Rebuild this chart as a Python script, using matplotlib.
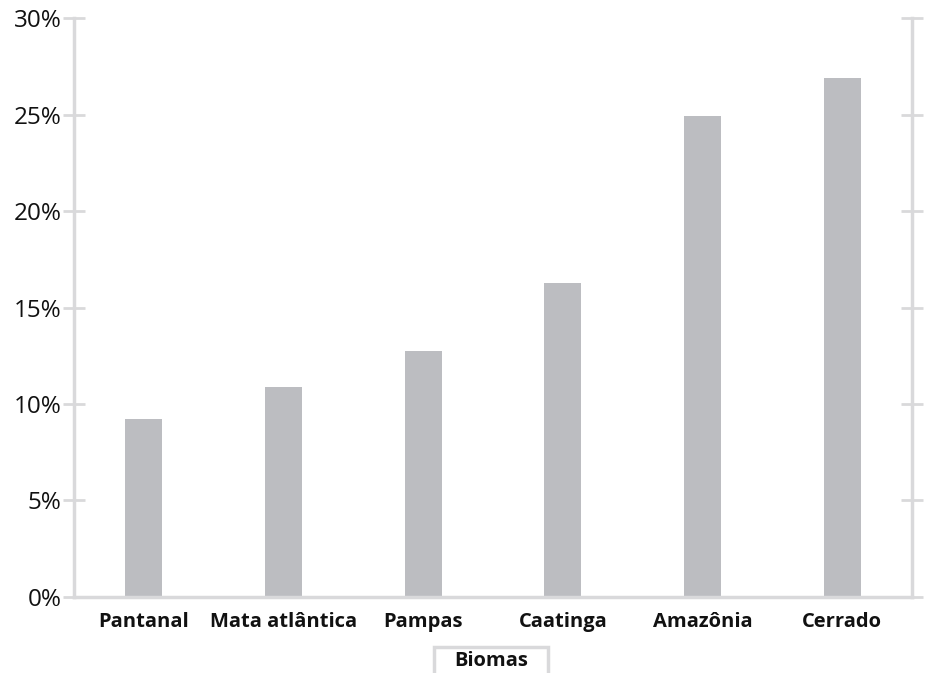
import matplotlib
matplotlib.use("Agg")
import matplotlib.pyplot as plt
from matplotlib.patches import Rectangle
from matplotlib.ticker import FuncFormatter

biomas = ["Pantanal", "Mata atlântica", "Pampas", "Caatinga", "Amazônia", "Cerrado"]
valores = [9.2, 10.9, 12.75, 16.25, 24.95, 26.9]

plt.rcParams["font.family"] = ["Open Sans", "DejaVu Sans"]

bar_color = "#bcbdc1"
axis_color = "#d9d9db"
text_color = "#111111"

fig = plt.figure(figsize=(9.25, 6.73), dpi=100)
ax = fig.add_axes((0.08, 0.113, 0.906, 0.86))

ax.bar(range(len(biomas)), valores, width=0.265, color=bar_color, zorder=2)

ax.set_xlim(-0.5, len(biomas) - 0.5)
ax.set_ylim(0, 30)
ax.set_yticks(range(0, 31, 5))
ax.yaxis.set_major_formatter(FuncFormatter(lambda v, _: f"{v:.0f}%"))

ax.spines["top"].set_visible(False)
for side in ["left", "right", "bottom"]:
    ax.spines[side].set_color(axis_color)
    ax.spines[side].set_linewidth(2.5)

ax.tick_params(axis="y", which="both", direction="inout", length=16, width=2,
               color=axis_color, labelsize=17.5, labelcolor=text_color, pad=1,
               right=True)
ax.tick_params(axis="x", length=0, pad=11)
ax.set_xticks(range(len(biomas)))
ax.set_xticklabels(biomas, fontsize=14.5, fontweight="bold", color=text_color)

# axis title in a box, cut by the bottom of the figure
fig.patches.append(Rectangle((0.469, -0.02), 0.123, 0.0586, transform=fig.transFigure,
                             facecolor="white", edgecolor=axis_color, linewidth=2.5))
fig.text(0.531, 0.018, "Biomas", ha="center", va="center", fontsize=14.5,
         fontweight="bold", color=text_color)

fig.savefig("out.png", dpi=100)
